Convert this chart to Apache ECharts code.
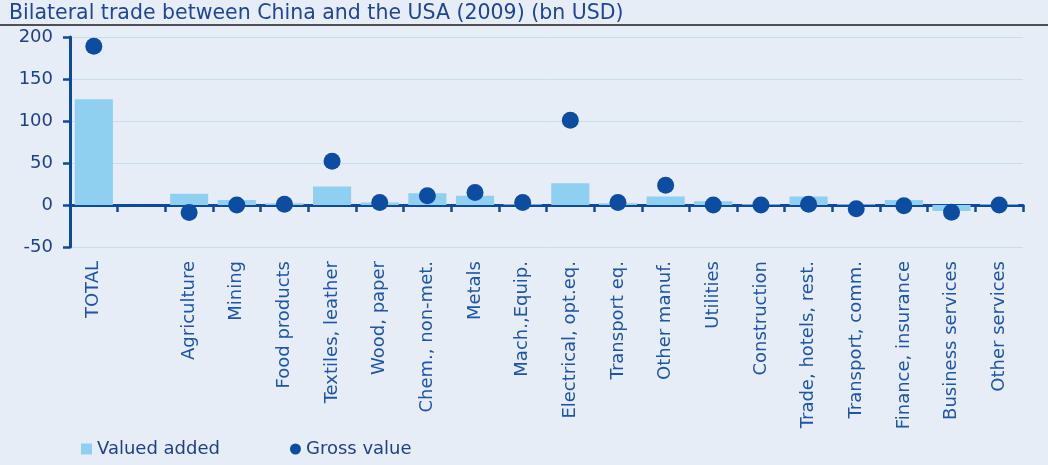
<!DOCTYPE html>
<html>
<head>
<meta charset="utf-8">
<script src="https://cdn.jsdelivr.net/npm/echarts@6/dist/echarts.min.js"></script>
<style>
html,body{margin:0;padding:0;background:#E7EDF7;}
#chart{width:1048px;height:465px;}
</style>
</head>
<body>
<div id="chart"></div>
<script>
const categories = ['TOTAL', '', 'Agriculture', 'Mining', 'Food products', 'Textiles, leather', 'Wood, paper', 'Chem., non-met.', 'Metals', 'Mach.,Equip.', 'Electrical, opt.eq.', 'Transport eq.', 'Other manuf.', 'Utilities', 'Construction', 'Trade, hotels, rest.', 'Transport, comm.', 'Finance, insurance', 'Business services', 'Other services'];
const valueAdded = [126, null, 13.5, 6, 2, 22, 3, 14, 11, 1, 26, 2, 10, 4.5, 1, 10, 1, 6, -7, 1];
const grossValue = [189, null, -9, 0, 1, 52, 3, 11, 15, 3, 101, 3, 23.5, 0, 0, 1, -4.5, -1, -8.5, 0];
const yTicks = { min: -50, max: 200, interval: 50 };

const FONT = '"DejaVu Sans", sans-serif';
const DARK = '#0C4A9E';
const TEXT = '#1E3F8E';

const chart = echarts.init(document.getElementById('chart'), null, { renderer: 'canvas' });
chart.setOption({
  backgroundColor: '#E7EDF7',
  animation: false,
  textStyle: { fontFamily: FONT },
  title: {
    text: 'Bilateral trade between China and the USA (2009) (bn USD)',
    left: 4, top: -2,
    textStyle: { fontFamily: FONT, fontSize: 20.5, fontWeight: 'normal', color: '#1E4596' }
  },
  graphic: [{
    type: 'line', shape: { x1: 0, y1: 25, x2: 1048, y2: 25 },
    style: { stroke: '#1a1a1a', lineWidth: 1.5 }
  }],
  legend: {
    left: 76, top: 435,
    itemWidth: 11, itemHeight: 11, itemGap: 70,
    textStyle: { fontFamily: FONT, fontSize: 18, color: TEXT },
    data: [{ name: 'Valued added', icon: 'rect' }, { name: 'Gross value', icon: 'circle' }]
  },
  grid: { left: 70, right: 25, top: 37, bottom: 218, containLabel: false },
  xAxis: [{
    type: 'category', data: categories, position: 'bottom',
    axisLine: { show: false, onZero: false }, axisTick: { show: false },
    axisLabel: { rotate: 90, interval: 0, margin: 14, fontFamily: FONT, fontSize: 18, color: '#1D55A8' }
  }, {
    type: 'category', data: categories, position: 'top',
    axisLine: { show: true, onZero: true, lineStyle: { color: DARK, width: 3 } },
    axisTick: { show: true, inside: true, interval: 0, length: 7, lineStyle: { color: DARK, width: 2.5 } },
    axisLabel: { show: false, interval: 0 }
  }],
  yAxis: {
    type: 'value', min: yTicks.min, max: yTicks.max, interval: yTicks.interval,
    axisLine: { show: true, lineStyle: { color: DARK, width: 3 } },
    axisTick: { show: true, length: 7, lineStyle: { color: DARK, width: 2.5 } },
    axisLabel: { fontFamily: FONT, fontSize: 18, color: TEXT, margin: 17 },
    splitLine: { show: true, lineStyle: { color: '#C6DCF1', width: 1 } }
  },
  series: [{
    name: 'Valued added', type: 'bar', xAxisIndex: 0, data: valueAdded,
    barWidth: '80%', itemStyle: { color: '#8FCFF0' }
  }, {
    name: 'Gross value', type: 'scatter', xAxisIndex: 0, data: grossValue,
    symbol: 'circle', symbolSize: 17, itemStyle: { color: '#0C4DA2', opacity: 1 }, z: 5
  }]
});
</script>
</body>
</html>
